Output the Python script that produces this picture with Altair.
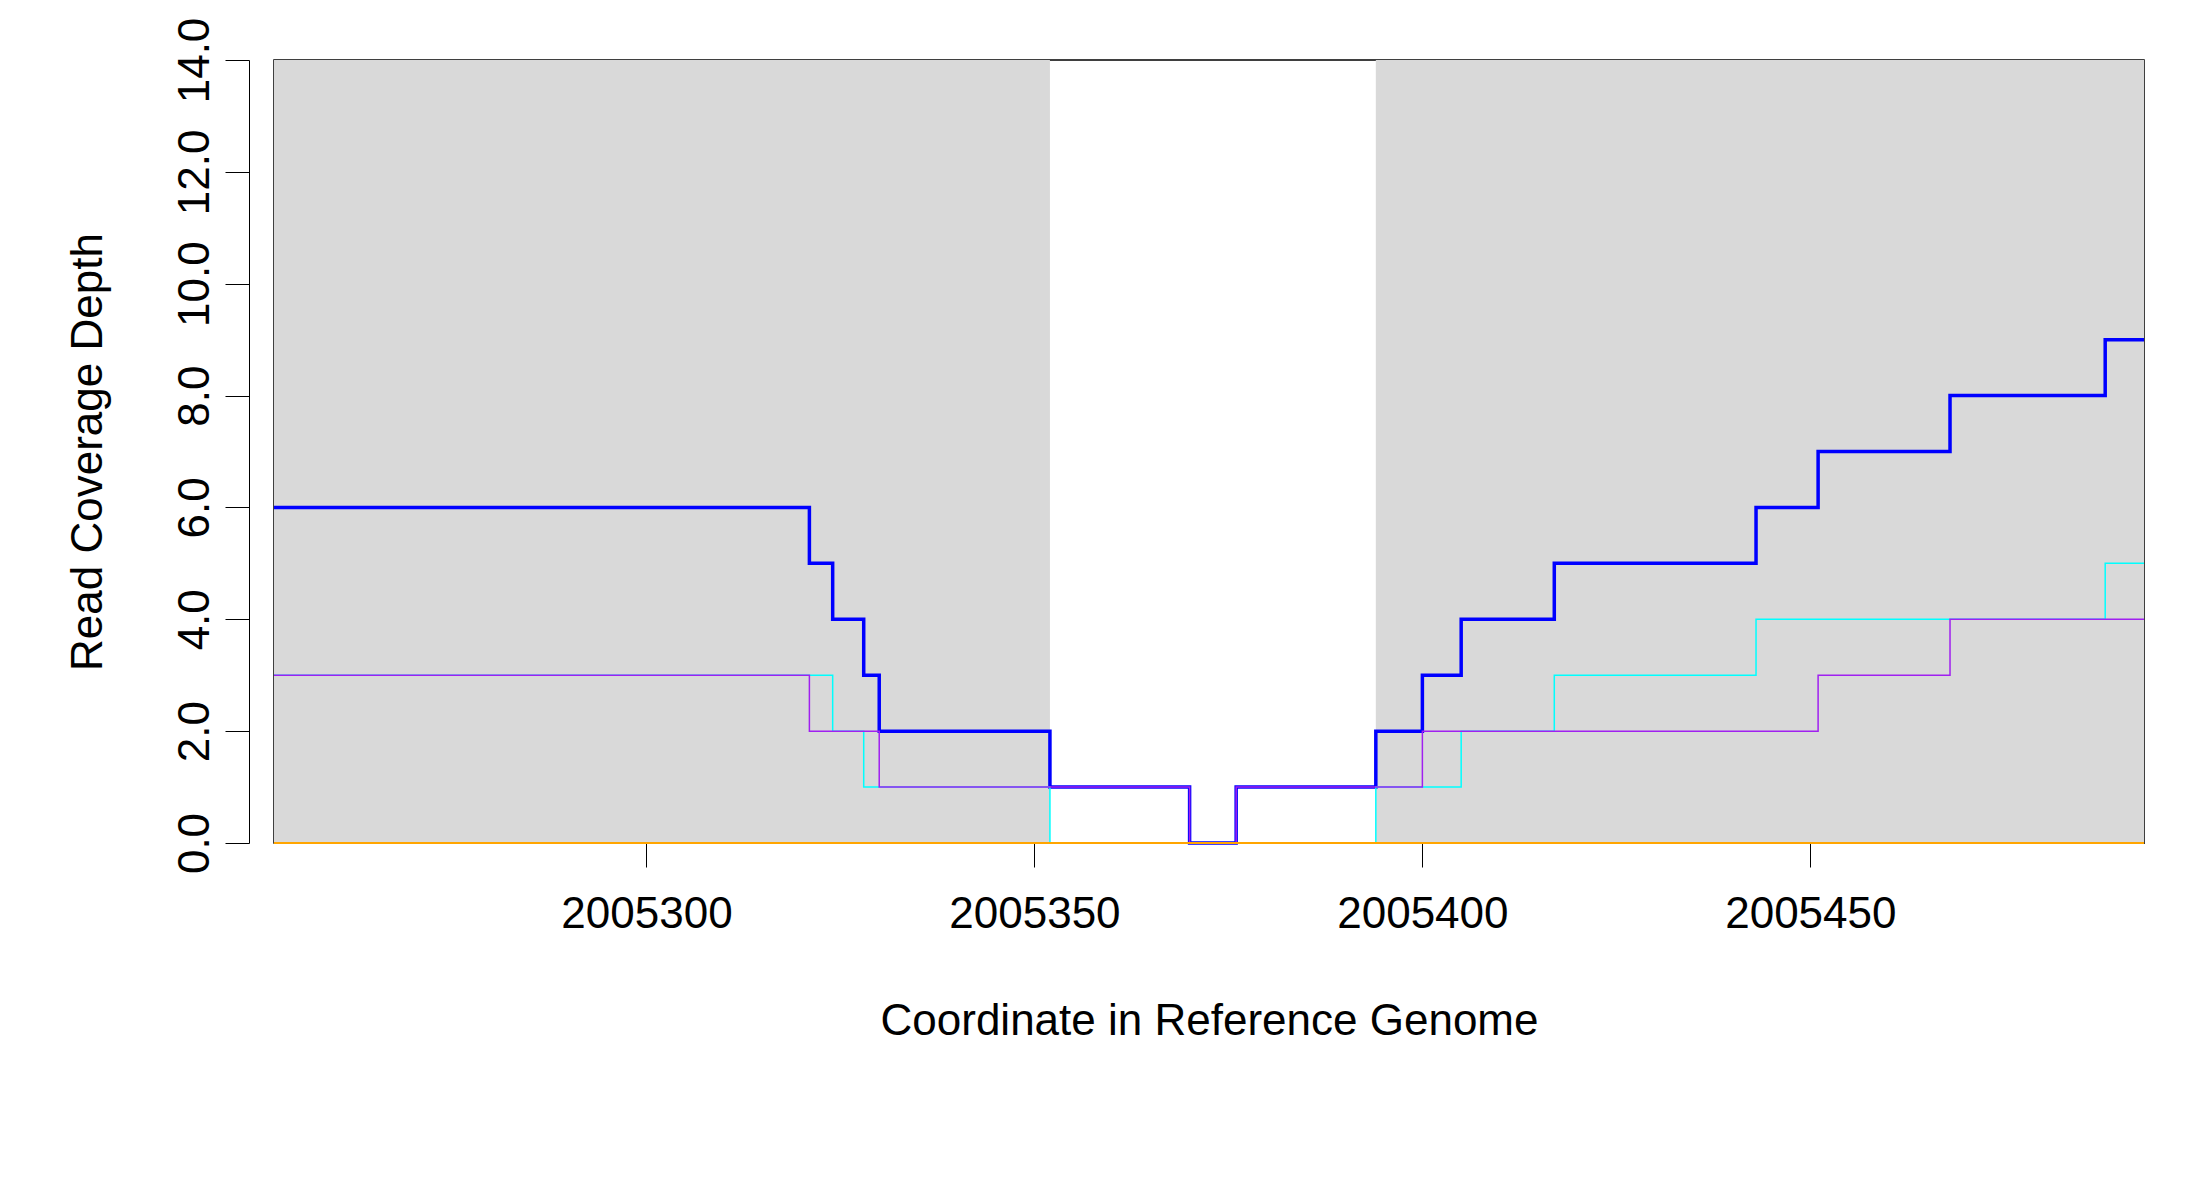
import altair as alt
import pandas as pd

X_MIN, X_MAX = 2005252, 2005493

# step breakpoints (coordinate where each level starts) and levels
TOTAL_X = [2005252, 2005321, 2005324, 2005328, 2005330, 2005352, 2005370, 2005376,
           2005394, 2005400, 2005405, 2005417, 2005443, 2005451, 2005468, 2005488, 2005493]
TOTAL_Y = [6, 5, 4, 3, 2, 1, 0, 1, 2, 3, 4, 5, 6, 7, 8, 9, 9]

TOP_X = [2005252, 2005324, 2005328, 2005352, 2005394, 2005405, 2005417, 2005443, 2005488, 2005493]
TOP_Y = [3, 2, 1, 0, 1, 2, 3, 4, 5, 5]

BOTTOM_X = [2005252, 2005321, 2005330, 2005370, 2005376, 2005400, 2005451, 2005468, 2005493]
BOTTOM_Y = [3, 2, 1, 0, 1, 2, 3, 4, 4]

REPEAT_X = [X_MIN, X_MAX]
REPEAT_Y = [0, 0]

SHADE_START = [2005252, 2005394]
SHADE_END = [2005352, 2005493]

SERIES = ["unique total", "unique top", "unique bottom", "repeat total", "repeat top", "repeat bottom"]
COLORS = ["#0000FF", "#00FFFF", "#A020F0", "#FF0000", "#FFFF00", "#FFA500"]

FONT = "Liberation Sans"
W, H = 1870, 783

legend = alt.Legend(
    title=None, orient="none", legendX=-6, legendY=1058, direction="horizontal",
    columns=6, gridAlign="all", columnPadding=41, symbolType="square",
    symbolSize=600, symbolStrokeColor="black", symbolStrokeWidth=1.5,
    symbolOpacity=1, labelFontSize=34, labelFont=FONT, labelOffset=30,
    labelColor="black", labelLimit=0,
)

x_scale = alt.Scale(domain=[X_MIN, X_MAX], nice=False, zero=False)
y_scale = alt.Scale(domain=[0, 14], nice=False)

shade = (
    alt.Chart(pd.DataFrame({"x": SHADE_START, "x2": SHADE_END}))
    .mark_rect(color="#D9D9D9")
    .encode(
        x=alt.X("x:Q", scale=x_scale,
                axis=alt.Axis(values=[2005300, 2005350, 2005400, 2005450], format="d",
                              title="Coordinate in Reference Genome", grid=False,
                              tickSize=24, tickColor="black", domainColor="black",
                              labelFontSize=44, labelFont=FONT, labelColor="black",
                              labelPadding=25, titleFontSize=44, titleFont=FONT,
                              titleFontWeight="normal", titlePadding=63,
                              titleColor="black")),
        x2="x2:Q",
        y=alt.value(0),
        y2=alt.value(H),
    )
)

# invisible filled squares that carry the legend
key = (
    alt.Chart(pd.DataFrame({"x": [X_MIN] * len(SERIES), "y": [0] * len(SERIES), "series": SERIES}))
    .mark_square(filled=True, opacity=0, size=1)
    .encode(
        x=alt.X("x:Q", scale=x_scale),
        y=alt.Y("y:Q", scale=y_scale),
        fill=alt.Fill("series:N", scale=alt.Scale(domain=SERIES, range=COLORS),
                      legend=legend, sort=SERIES),
    )
)


def series_layer(name, xs, ys, width):
    df = pd.DataFrame({"x": xs, "y": ys, "series": name})
    return (
        alt.Chart(df)
        .mark_line(interpolate="step-after", strokeWidth=width)
        .encode(
            x=alt.X("x:Q", scale=x_scale),
            y=alt.Y("y:Q", scale=y_scale,
                    axis=alt.Axis(values=list(range(0, 15, 2)), title="Read Coverage Depth",
                                  grid=False, offset=25, tickSize=24, tickColor="black",
                                  domainColor="black", labelAngle=270, labelAlign="center",
                                  labelBaseline="bottom", labelFontSize=44, labelFont=FONT,
                                  labelColor="black", labelPadding=8, titleFontSize=44,
                                  titleFont=FONT, titleFontWeight="normal",
                                  titlePadding=63, titleColor="black")),
            stroke=alt.Stroke("series:N", scale=alt.Scale(domain=SERIES, range=COLORS),
                              legend=None),
        )
    )


chart = (
    alt.layer(
        shade,
        series_layer("unique total", TOTAL_X, TOTAL_Y, 3.5),
        series_layer("unique top", TOP_X, TOP_Y, 1.5),
        series_layer("unique bottom", BOTTOM_X, BOTTOM_Y, 1.5),
        series_layer("repeat total", REPEAT_X, REPEAT_Y, 1.5),
        series_layer("repeat top", REPEAT_X, REPEAT_Y, 1.5),
        series_layer("repeat bottom", REPEAT_X, REPEAT_Y, 2),
        key,
    )
    .properties(width=W, height=H, autosize=alt.AutoSizeParams(type="none"),
                padding={"left": 266, "top": 52, "right": 26, "bottom": 330},
                background="white")
    .configure_view(stroke="black", strokeWidth=1.5)
)

chart.save("out.html", embed_options={"renderer": "svg", "actions": False})
